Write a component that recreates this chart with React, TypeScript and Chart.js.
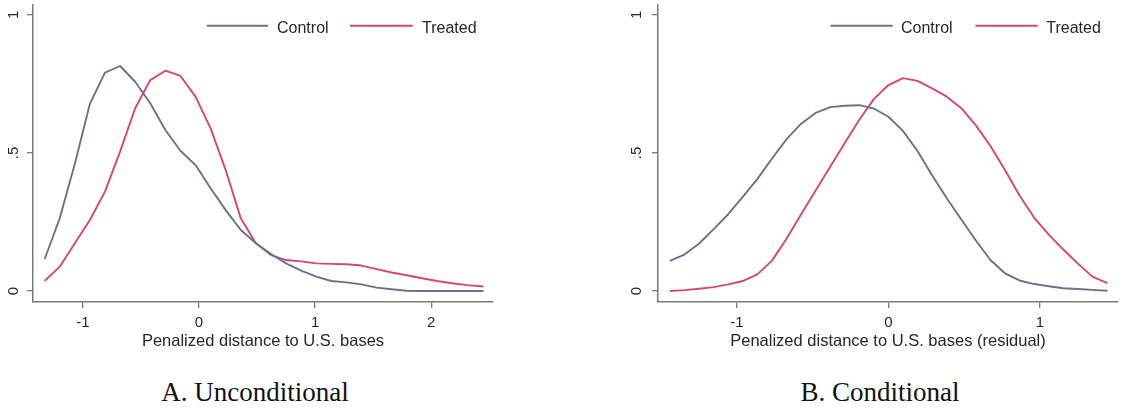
import React, { useEffect, useRef } from 'react';
import { Chart, registerables } from 'chart.js';

Chart.register(...registerables);

// ---------- data ----------
const seriesLabels = ['Control', 'Treated'];
const yTickValues = [0, 0.5, 1];
const yTickLabels = ['0', '.5', '1'];

// Panel A: unconditional
const xA = [-1.33, -1.2, -1.07, -0.94, -0.81, -0.68, -0.55, -0.42, -0.29, -0.16, -0.03, 0.1, 0.23, 0.36, 0.49, 0.62, 0.75, 0.88, 1.01, 1.14, 1.27, 1.4, 1.53, 1.66, 1.79, 1.92, 2.05, 2.18, 2.31, 2.45];
const controlA = [0.115, 0.263, 0.46, 0.678, 0.791, 0.815, 0.758, 0.68, 0.583, 0.508, 0.456, 0.372, 0.293, 0.221, 0.173, 0.134, 0.1, 0.074, 0.052, 0.036, 0.031, 0.024, 0.012, 0.006, 0.001, 0, 0, 0, 0, 0];
const treatedA = [0.036, 0.088, 0.173, 0.257, 0.36, 0.505, 0.662, 0.764, 0.798, 0.779, 0.704, 0.589, 0.438, 0.263, 0.173, 0.13, 0.112, 0.107, 0.1, 0.098, 0.097, 0.092, 0.079, 0.067, 0.057, 0.046, 0.036, 0.028, 0.021, 0.016];
const xTicksA = [-1, 0, 1, 2];
const xTickLabelsA = ['-1', '0', '1', '2'];

// Panel B: conditional
const xB = [-1.442, -1.346, -1.25, -1.153, -1.057, -0.961, -0.865, -0.769, -0.673, -0.576, -0.48, -0.384, -0.288, -0.192, -0.096, 0.0, 0.096, 0.192, 0.288, 0.385, 0.481, 0.577, 0.673, 0.769, 0.865, 0.962, 1.058, 1.154, 1.25, 1.346, 1.445];
const controlB = [0.109, 0.132, 0.171, 0.224, 0.278, 0.341, 0.405, 0.479, 0.549, 0.606, 0.645, 0.666, 0.671, 0.673, 0.661, 0.631, 0.58, 0.507, 0.419, 0.336, 0.259, 0.183, 0.112, 0.064, 0.038, 0.025, 0.017, 0.01, 0.007, 0.004, 0.001];
const treatedB = [0.0, 0.003, 0.008, 0.014, 0.024, 0.036, 0.06, 0.109, 0.188, 0.278, 0.364, 0.45, 0.536, 0.62, 0.695, 0.746, 0.771, 0.761, 0.734, 0.704, 0.662, 0.6, 0.525, 0.438, 0.346, 0.265, 0.204, 0.15, 0.099, 0.052, 0.028];
const xTicksB = [-1, 0, 1];
const xTickLabelsB = ['-1', '0', '1'];

const xTitleA = 'Penalized distance to U.S. bases';
const xTitleB = 'Penalized distance to U.S. bases (residual)';
const captionA = 'A. Unconditional';
const captionB = 'B. Conditional';

// ---------- styles ----------
const CONTROL_COLOR = '#6c7090';
const TREATED_COLOR = '#d8466f';
const AXIS_COLOR = '#7a7a7a';
const TEXT_COLOR = '#262626';
const SANS = '"Liberation Sans", Arial, sans-serif';
const SERIF = '"Liberation Serif", "Times New Roman", serif';

type LegendItem = { x1: number; x2: number; tx: number };

const legendPlugin = {
  id: 'insideLegend',
  afterDraw(chart: any) {
    const cfg = chart.options.plugins.insideLegend;
    if (!cfg) return;
    const ctx = chart.ctx;
    ctx.save();
    cfg.items.forEach((it: LegendItem, i: number) => {
      const ds = chart.data.datasets[i];
      ctx.strokeStyle = ds.borderColor;
      ctx.lineWidth = 1.9;
      ctx.beginPath();
      ctx.moveTo(it.x1, cfg.lineY);
      ctx.lineTo(it.x2, cfg.lineY);
      ctx.stroke();
      ctx.fillStyle = TEXT_COLOR;
      ctx.font = `16px ${SANS}`;
      ctx.textAlign = 'left';
      ctx.textBaseline = 'alphabetic';
      ctx.fillText(ds.label, it.tx, cfg.textY);
    });
    ctx.restore();
  },
};

type PanelProps = {
  left: number;
  width: number;
  height: number;
  yAxisWidth: number;
  rightPad: number;
  yLabelPad: number;
  xs: number[];
  control: number[];
  treated: number[];
  xMin: number;
  xMax: number;
  xTicks: number[];
  xTickLabels: string[];
  legend: LegendItem[];
};

function Panel(p: PanelProps) {
  const ref = useRef<HTMLCanvasElement | null>(null);
  useEffect(() => {
    if (!ref.current) return;
    const xAxisHeight = p.height - 302;
    const chart = new Chart(ref.current, {
      type: 'line',
      data: {
        datasets: [
          {
            label: seriesLabels[0],
            data: p.xs.map((x, i) => ({ x, y: p.control[i] })),
            borderColor: CONTROL_COLOR,
            borderWidth: 1.9,
            borderJoinStyle: 'round',
            pointRadius: 0,
            tension: 0,
            fill: false,
          },
          {
            label: seriesLabels[1],
            data: p.xs.map((x, i) => ({ x, y: p.treated[i] })),
            borderColor: TREATED_COLOR,
            borderWidth: 1.9,
            borderJoinStyle: 'round',
            pointRadius: 0,
            tension: 0,
            fill: false,
          },
        ],
      },
      options: {
        animation: false,
        responsive: false,
        maintainAspectRatio: false,
        layout: { padding: { top: 5, right: p.rightPad, left: 0, bottom: 0 } },
        plugins: {
          legend: { display: false },
          tooltip: { enabled: false },
          title: { display: false },
          insideLegend: { items: p.legend, lineY: 25.7, textY: 33 },
        } as any,
        scales: {
          x: {
            type: 'linear',
            min: p.xMin,
            max: p.xMax,
            bounds: 'data',
            afterBuildTicks: (s: any) => {
              s.ticks = p.xTicks.map((v) => ({ value: v }));
            },
            ticks: {
              autoSkip: false,
              maxRotation: 0,
              padding: 6,
              color: TEXT_COLOR,
              font: { family: SANS, size: 15 },
              callback: (_v: any, i: number) => p.xTickLabels[i],
            },
            grid: {
              display: true,
              drawOnChartArea: false,
              drawTicks: true,
              tickLength: 6,
              color: AXIS_COLOR,
              lineWidth: 1.3,
            },
            border: { display: true, color: AXIS_COLOR, width: 1.5 },
            afterFit: (s: any) => {
              s.height = xAxisHeight;
              s.paddingLeft = 0;
              s.paddingRight = 0;
            },
          },
          y: {
            type: 'linear',
            min: -0.04,
            max: 1.036,
            bounds: 'data',
            afterBuildTicks: (s: any) => {
              s.ticks = yTickValues.map((v) => ({ value: v }));
            },
            ticks: {
              autoSkip: false,
              minRotation: 90,
              maxRotation: 90,
              crossAlign: 'center',
              padding: p.yLabelPad,
              color: TEXT_COLOR,
              font: { family: SANS, size: 15 },
              callback: (_v: any, i: number) => yTickLabels[i],
            },
            grid: {
              display: true,
              drawOnChartArea: false,
              drawTicks: true,
              tickLength: 6,
              color: AXIS_COLOR,
              lineWidth: 1.3,
            },
            border: { display: true, color: AXIS_COLOR, width: 1.5 },
            afterFit: (s: any) => {
              s.width = p.yAxisWidth;
              s.paddingTop = 0;
              s.paddingBottom = 0;
            },
          },
        },
      } as any,
      plugins: [legendPlugin],
    });
    return () => chart.destroy();
  }, []);
  return (
    <canvas
      ref={ref}
      width={p.width}
      height={p.height}
      style={{ position: 'absolute', left: p.left, top: 0, width: p.width, height: p.height }}
    />
  );
}

function CenteredText(props: { cx: number; top: number; text: string; font: string; size: number; lh: number; color: string }) {
  return (
    <div
      style={{
        position: 'absolute',
        left: props.cx - 300,
        width: 600,
        top: props.top,
        textAlign: 'center',
        fontFamily: props.font,
        fontSize: props.size,
        lineHeight: `${props.lh}px`,
        color: props.color,
        whiteSpace: 'nowrap',
      }}
    >
      {props.text}
    </div>
  );
}

export default function App() {
  return (
    <div
      style={{
        position: 'fixed',
        left: 0,
        top: 0,
        width: 1124,
        height: 409,
        background: '#ffffff',
        overflow: 'hidden',
      }}
    >
      <Panel
        left={0}
        width={520}
        height={335}
        yAxisWidth={33}
        rightPad={27.3}
        yLabelPad={7}
        xs={xA}
        control={controlA}
        treated={treatedA}
        xMin={-1.43}
        xMax={2.53}
        xTicks={xTicksA}
        xTickLabels={xTickLabelsA}
        legend={[
          { x1: 206.7, x2: 268, tx: 277 },
          { x1: 350, x2: 412.7, tx: 422 },
        ]}
      />
      <Panel
        left={560}
        width={564}
        height={335}
        yAxisWidth={98}
        rightPad={6.4}
        yLabelPad={8.5}
        xs={xB}
        control={controlB}
        treated={treatedB}
        xMin={-1.52}
        xMax={1.512}
        xTicks={xTicksB}
        xTickLabels={xTickLabelsB}
        legend={[
          { x1: 270.5, x2: 332.7, tx: 341 },
          { x1: 415.5, x2: 477.7, tx: 486.3 },
        ]}
      />
      <CenteredText cx={263} top={329.5} text={xTitleA} font={SANS} size={16.5} lh={20} color={TEXT_COLOR} />
      <CenteredText cx={888} top={329.5} text={xTitleB} font={SANS} size={16.5} lh={20} color={TEXT_COLOR} />
      <CenteredText cx={255} top={377} text={captionA} font={SERIF} size={27} lh={30} color="#111111" />
      <CenteredText cx={880} top={377} text={captionB} font={SERIF} size={27} lh={30} color="#111111" />
    </div>
  );
}
